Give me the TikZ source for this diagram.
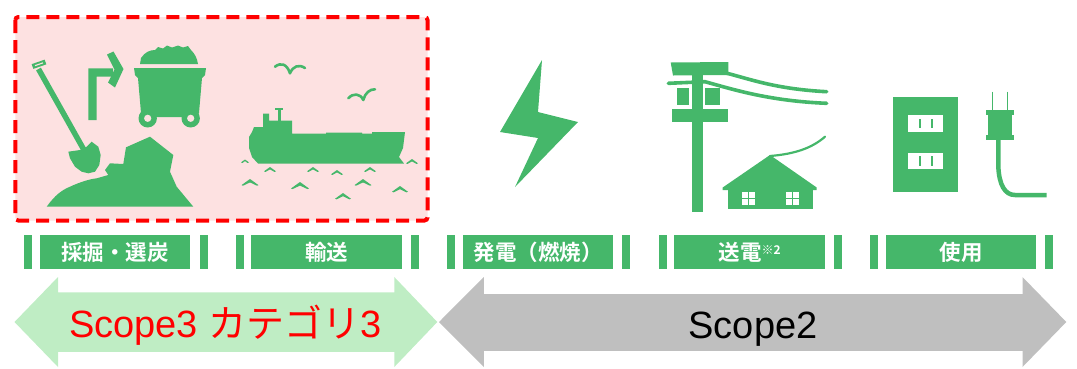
\documentclass[tikz,border=0pt]{standalone}
\usepackage{fontspec}
\setmainfont{Liberation Sans}
\newfontfamily\jp{Noto Sans CJK JP}
\newfontfamily\jpb{Noto Sans CJK JP}[BoldFont={Noto Sans CJK JP Bold}]
\newcommand\lblfont{\jpb\bfseries\fontsize{21.5}{24}\selectfont}
\definecolor{icon}{RGB}{69,183,106}
\definecolor{pinkbg}{RGB}{253,225,225}
\definecolor{lightarrow}{RGB}{191,237,196}
\definecolor{grayarrow}{RGB}{191,191,191}
\tikzset{
  mainbar/.style={fill=icon, minimum width=150.5pt, minimum height=34.7pt, inner sep=0pt,
    anchor=west, text=white, font=\lblfont},
  sidebar/.style={fill=icon, minimum width=8pt, minimum height=34.7pt, inner sep=0pt, anchor=west},
  wave/.style={fill=icon},
  bird/.style={draw=icon, line width=2.6pt, line cap=round, line join=round},
  wire/.style={draw=icon, line width=3.6pt, line cap=round},
}
\newcommand\wavemark[3]{% centre x, peak y, width
  \fill[wave] ({#1-#3/2},{#2+0.36*#3}) -- (#1,#2) -- ({#1+#3/2},{#2+0.36*#3})
    -- ({#1+#3/2-1.5},{#2+0.36*#3+0.6}) -- (#1,{#2+0.2*#3}) -- ({#1-#3/2+1.5},{#2+0.36*#3+0.6}) -- cycle;}
\begin{document}
\begin{tikzpicture}[x=1pt,y=-1pt]
\useasboundingbox (0,0) rectangle (1077,368);

% ---- upstream area (mining and shipping)
\filldraw[fill=pinkbg, draw=red, line width=4pt, dash pattern=on 13pt off 7pt, rounded corners=3pt]
  (15.3,17) rectangle (427.5,220.5);

% shovel
\draw[icon, line width=5.5pt] (38.5,69) -- (84,150);
\draw[icon, line width=5pt] (32.5,66.5) -- (45.5,62);
\draw[pinkbg, line width=1.1pt] (35,65.6) -- (43,62.9);
\fill[icon] (68.3,151.7) -- (80,150) -- (86.7,146.7) -- (91.7,141.7) -- (98.3,146.7)
  -- (100.7,155) -- (99.3,165) -- (95,171.7) -- (88.3,173.3) -- (81.7,171.7)
  -- (75,166.7) -- (70,158.3) -- cycle;

% bent arrow
\fill[icon] (88.3,120) -- (88.3,68.3) -- (113,68.3) -- (113,76.7) -- (96.7,76.7) -- (96.7,120) -- cycle;
\fill[icon] (107,54.5) -- (113.5,51.5) -- (123.5,69) -- (115,87.5) -- (108,82.5) -- (114.5,69.5) -- cycle;

% mine cart
\fill[icon] (140,64) -- (141,58) .. controls (145,52) and (150,50) .. (155,50) -- (158,47)
  -- (163,48.5) -- (167,45.5) -- (172,47.5) -- (178,45.5) -- (183,47.5) -- (188,46)
  -- (191,50) .. controls (195,54) and (197,58) .. (198,64) -- cycle;
\fill[icon] (134,68) -- (206,68) -- (205,75) -- (202,78) -- (199,113) -- (196,117)
  -- (144,117) -- (141,113) -- (138,78) -- (135,75) -- cycle;
\fill[icon] (147.7,118.3) circle (9.2);
\fill[icon] (190.7,118.3) circle (9.2);
\fill[pinkbg] (147.7,118.3) circle (3.6);
\fill[pinkbg] (190.7,118.3) circle (3.6);

% rock pile
\fill[icon] (46.7,206.7) .. controls (55,195) and (62,190) .. (70,186.7)
  .. controls (80,182) and (90,179) .. (96.7,178.3) -- (108.3,175) -- (105,170) -- (110,163.3)
  -- (123.3,164) -- (126,147.3) -- (150,136.7) -- (173.3,155) -- (170,171.7)
  -- (176.7,186.7) -- (193.3,206.7) -- cycle;

% ship
\fill[icon] (258,163.5) -- (252,157) -- (249,148) -- (249,137) -- (252,132) -- (254,127)
  -- (263,127) -- (263,113.5) -- (269,113.5) -- (269,120.5) -- (292,120.5) -- (292,133.5)
  -- (326,133.5) -- (326,132.5) -- (362,132.5) -- (362,133.5) -- (372,133.5) -- (372,132)
  -- (405,132) -- (403,148) -- (399,157) -- (404,163.5) -- cycle;
\fill[icon] (277.5,109) rectangle (281,121);
\fill[icon] (275,107.5) rectangle (283,110);

% birds
\draw[bird] (275,66.7) .. controls (281,62) and (287,64) .. (290,73.3)
  .. controls (293,66) and (299,64) .. (305,68);
\draw[bird] (348.3,98.3) .. controls (353,93) and (360,93) .. (363.3,100)
  .. controls (365,93) and (370,89) .. (375,89.3);

% waves
\wavemark{245}{159.5}{8}
\wavemark{270}{167}{12}
\wavemark{313}{167}{12}
\wavemark{337}{170}{12}
\wavemark{370}{167}{12}
\wavemark{412}{159}{12}
\wavemark{250}{179}{17}
\wavemark{300}{182}{18}
\wavemark{363}{179}{17}
\wavemark{400}{186}{16}
\wavemark{343}{193}{16}

% ---- power generation
\fill[icon] (542,60) -- (500,132) -- (538,138) -- (515,187) -- (578,122) -- (538,112) -- cycle;

% ---- transmission: pole, wires, house
\draw[wire] (668.3,83.3) -- (705,81.7) .. controls (735,90) and (770,101) .. (826.7,103.3);
\draw[wire] (724,72.5) .. controls (750,79) and (775,89) .. (826.7,91.7);
\fill[icon] (691.7,63) rectangle (703.3,211.7);
\fill[icon] (670.7,62.5) -- (728.3,62) -- (728.3,75) -- (673,75.5) -- cycle;
\fill[icon] (671.7,109.3) rectangle (728.3,121.7);
\fill[icon] (676.7,88.3) rectangle (689.3,105);
\fill[icon] (705,88.3) rectangle (720,105);
\draw[icon, line width=2.2pt, line cap=round] (825,136.7) .. controls (812,148) and (795,154) .. (770,156);
\fill[icon] (722.7,187.5) -- (770,155) -- (816.7,187.5) -- (816.7,190) -- (722.7,190) -- cycle;
\fill[icon] (728.3,188) rectangle (812.7,209.3);
\foreach \wx in {741.7, 786} {
  \fill[white] (\wx,191.7) rectangle ({\wx+13.3},205);
  \draw[icon, line width=1pt] ({\wx+6.65},191.7) -- ({\wx+6.65},205);
  \draw[icon, line width=1pt] (\wx,198.35) -- ({\wx+13.3},198.35);
}

% ---- use: wall outlet and plug
\fill[icon] (892.7,96.7) rectangle (958.3,191.7);
\foreach \sy in {115, 152.7} {
  \fill[white] (908.3,\sy) rectangle (942.7,{\sy+16.7});
  \fill[icon] (919.3,{\sy+3.5}) rectangle (920.8,{\sy+13});
  \fill[icon] (931,{\sy+3.5}) rectangle (932.5,{\sy+13});
}
\draw[icon, line width=1.3pt] (992.7,91.7) -- (992.7,111);
\draw[icon, line width=1.3pt] (1007.3,91.7) -- (1007.3,111);
\fill[icon] (986,110) rectangle (1014,115);
\fill[icon] (988.3,114) rectangle (1011.7,136);
\fill[icon] (986,135) rectangle (1014,140);
\draw[icon, line width=4.5pt] (998.3,139) -- (998.3,166)
  .. controls (999,185) and (1005,195) .. (1015,195) -- (1046.7,195);

% ---- stage labels
\fill[icon] (24.1,234.5) rectangle (32.1,269.2);
\node[mainbar] (l1) at (39.6,251.9) {採掘・選炭};
\node[sidebar] (r1) at (199.7,251.9) {};
\node[sidebar] (q2) at (235.9,251.9) {};
\node[mainbar] (l2) at (251.1,251.9) {輸送};
\node[sidebar] (r2) at (410.6,251.9) {};
\node[sidebar] (q3) at (447,251.9) {};
\node[mainbar] (l3) at (462.6,251.9) {発電（燃焼）};
\node[sidebar] (r3) at (622.1,251.9) {};
\node[sidebar] (q4) at (658.6,251.9) {};
\node[mainbar] (l4) at (674.1,251.9) {送電{\fontsize{12}{13}\selectfont\raisebox{6pt}{※2}}};
\node[sidebar] (r4) at (833.6,251.9) {};
\node[sidebar] (q5) at (870.1,251.9) {};
\node[mainbar] (l5) at (885.6,251.9) {使用};
\node[sidebar] (r5) at (1045.1,251.9) {};

% ---- scope arrows
\fill[lightarrow] (14.5,322) -- (58,277) -- (58,292.3) -- (394.3,292.3) -- (394.3,277)
  -- (437.3,322) -- (394.3,367) -- (394.3,351.9) -- (58,351.9) -- (58,367) -- cycle;
\fill[grayarrow] (439,322) -- (483.8,277) -- (483.8,294) -- (1022.5,294) -- (1022.5,277)
  -- (1066.3,322) -- (1022.5,367) -- (1022.5,350.9) -- (483.8,350.9) -- (483.8,367) -- cycle;
\node[anchor=base, text=red, font=\fontsize{38}{40}\selectfont, inner sep=0pt] (s3)
  at (225.5,337) {Scope3 {\jp カテゴリ}3};
\node[anchor=base, text=black, font=\fontsize{38}{40}\selectfont, inner sep=0pt] (s2)
  at (753,338.8) {Scope2};
\end{tikzpicture}
\end{document}
